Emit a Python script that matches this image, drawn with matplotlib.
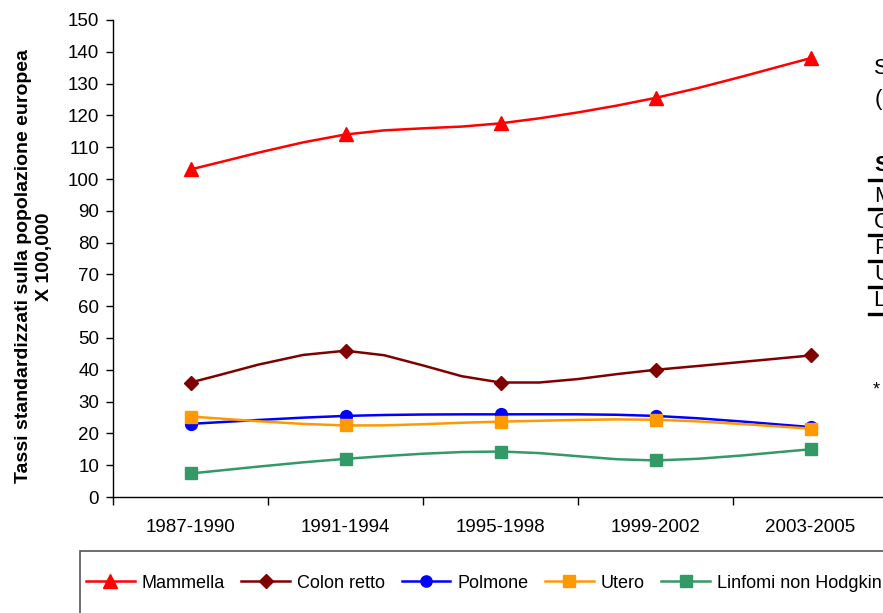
import numpy as np
import matplotlib
matplotlib.use("Agg")
import matplotlib.pyplot as plt
from matplotlib.lines import Line2D
from matplotlib.patches import Rectangle

plt.rcParams["font.family"] = ["Liberation Sans", "DejaVu Sans"]

# ---------------------------------------------------------------------------
# Data: tassi standardizzati (popolazione europea) x 100,000
# ---------------------------------------------------------------------------
periodi = ["1987-1990", "1991-1994", "1995-1998", "1999-2002", "2003-2005"]

mammella = [103.0, 114.0, 117.5, 125.5, 138.0]
colon_retto = [36.0, 46.0, 36.0, 40.0, 44.5]
polmone = [23.0, 25.5, 26.0, 25.5, 22.0]
utero = [25.3, 22.5, 23.7, 24.3, 21.5]
linfomi = [7.4, 12.0, 14.3, 11.5, 15.0]

series = [
    ("Mammella", mammella, "#FF0000", "^", 10),
    ("Colon retto", colon_retto, "#800000", "D", 7.5),
    ("Polmone", polmone, "#0000FF", "o", 8.5),
    ("Utero", utero, "#FF9900", "s", 8.5),
    ("Linfomi non Hodgkin", linfomi, "#339966", "s", 9),
]


def smooth(y, steps=5):
    """Bezier smoothing between points, Excel-style (tension 1/6)."""
    y = np.asarray(y, dtype=float)
    x = np.arange(len(y), dtype=float)
    pts = np.column_stack([x, y])
    ext = np.vstack([pts[0], pts, pts[-1]])
    out = [pts[0]]
    t = np.linspace(0, 1, steps)[1:]
    for i in range(len(pts) - 1):
        p0, p1, p2, p3 = ext[i], ext[i + 1], ext[i + 2], ext[i + 3]
        c1 = p1 + (p2 - p0) / 6.0
        c2 = p2 - (p3 - p1) / 6.0
        for tt in t:
            b = ((1 - tt) ** 3) * p1 + 3 * ((1 - tt) ** 2) * tt * c1 \
                + 3 * (1 - tt) * tt ** 2 * c2 + tt ** 3 * p2
            out.append(b)
    out = np.array(out)
    return out[:, 0], out[:, 1]


W, H = 883, 613
fig = plt.figure(figsize=(W / 100, H / 100), dpi=100)

# plot area: left spine at x=113 px, zero line at y=497 px, top at 20 px
ax = fig.add_axes([113 / W, (H - 497) / H, 775 / W, 477 / H])

for name, vals, color, marker, ms in series:
    sx, sy = smooth(vals)
    ax.plot(sx, sy, color=color, lw=1.8, solid_joinstyle="round", zorder=2)
    ax.plot(np.arange(len(vals)), vals, ls="none", marker=marker, ms=ms,
            color=color, markeredgecolor=color, zorder=3)

ax.set_xlim(-0.5, len(periodi) - 0.5)
ax.set_ylim(0, 150)
ax.set_yticks(np.arange(0, 151, 10))
ax.set_xticks(np.arange(len(periodi) + 1) - 0.5)
ax.set_xticklabels([])
ax.set_xticks(np.arange(len(periodi)), minor=True)
ax.set_xticklabels(periodi, minor=True)
ax.tick_params(axis="x", which="minor", length=0, pad=16, labelsize=13.5)
ax.tick_params(axis="x", which="major", length=6, width=1, direction="out")
ax.tick_params(axis="y", length=5, width=1, direction="out", pad=5, labelsize=13.5)

for side in ("top", "right"):
    ax.spines[side].set_visible(False)
for side in ("left", "bottom"):
    ax.spines[side].set_linewidth(1)
    ax.spines[side].set_color("black")

fig.text(24 / W, 1 - 266 / H, "Tassi standardizzati sulla popolazione europea",
         rotation=90, ha="center", va="center", fontsize=14, fontweight="bold")
fig.text(45 / W, 1 - 257 / H, "X 100,000", rotation=90, ha="center",
         va="center", fontsize=14, fontweight="bold")

# legend box along the bottom edge
fig.patches.append(Rectangle((80 / W, -0.05), 1.0, (H - 551) / H + 0.05,
                             transform=fig.transFigure, fill=False,
                             edgecolor="#555555", lw=1.2))
handles = [Line2D([], [], color=c, marker=m, ms=ms * 0.95, lw=1.8)
           for _, _, c, m, ms in series]
fig.legend(handles, [s[0] for s in series], loc="center left",
           bbox_to_anchor=(86 / W, 1 - 583 / H), ncol=5, frameon=False,
           fontsize=13, handlelength=2.7, handletextpad=0.4,
           columnspacing=0.9, borderaxespad=0, borderpad=0)

# side table (continues past the right edge)
fig.text(874 / W, 1 - 68 / H, "Sedi tumorali femminili", fontsize=16,
         va="center", ha="left")
fig.text(875 / W, 1 - 100 / H, "(incidenza 1987-2005)", fontsize=16,
         va="center", ha="left")
fig.text(874 / W, 1 - 165 / H, "Sede", fontsize=16, fontweight="bold",
         va="center", ha="left")
rows = ["Mammella", "Colon retto", "Polmone", "Utero", "Linfomi non Hodgkin"]
row_y = [196, 222, 248, 274, 300]
for r, y in zip(rows, row_y):
    fig.text(874 / W, 1 - y / H, r, fontsize=16, va="center", ha="left")
for y in [180, 209, 235, 261, 287, 314]:
    fig.add_artist(Line2D([869 / W, 1.2], [1 - y / H, 1 - y / H],
                          transform=fig.transFigure, color="black", lw=2.4))
fig.text(873 / W, 1 - 390 / H, "* tassi x 100,000", fontsize=13,
         va="center", ha="left")

fig.savefig("out.png", dpi=100)
